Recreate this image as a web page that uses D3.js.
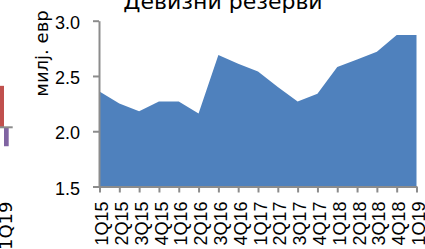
<!DOCTYPE html>
<html>
<head>
<meta charset="utf-8">
<script src="https://cdn.jsdelivr.net/npm/d3@7"></script>
<style>
  body { margin: 0; background: #fff; }
  svg { display: block; font-family: "DejaVu Sans", sans-serif; }
  .axis path, .axis line { stroke: #8c8c8c; stroke-width: 2; }
</style>
</head>
<body>
<div id="container"></div>
<script>
// Девизни резерви (милј. евр), квартали
const quarters = ['1Q15','2Q15','3Q15','4Q15','1Q16','2Q16','3Q16','4Q16',
                  '1Q17','2Q17','3Q17','4Q17','1Q18','2Q18','3Q18','4Q18','1Q19'];
const reserves = [2.36, 2.25, 2.18, 2.27, 2.27, 2.16, 2.69, 2.61,
                  2.54, 2.40, 2.27, 2.34, 2.58, 2.65, 2.72, 2.87, 2.87];
const yTicks = [1.5, 2.0, 2.5, 3.0];

// fragment of the neighbouring chart (only its last category is visible)
const leftCats = ['1Q19'];
const leftSeries = ['s0', 's1', 's2', 's3'];
const leftRed = [0.70];
const leftPurple = [-0.32];

const WIDTH = 425;
const HEIGHT = 249;

const svg = d3.select('#container')
  .append('svg')
    .attr('width', WIDTH)
    .attr('height', HEIGHT);

// ---- main chart
const x = d3.scalePoint().domain(quarters).range([99.5, 416.5]);
const y = d3.scaleLinear().domain([1.5, 3.0]).range([186.5, 20.7]);

const area = d3.area()
  .x((d, i) => x(quarters[i]))
  .y0(y(1.5))
  .y1(d => y(d));

svg.append('path')
  .datum(reserves)
  .attr('d', area)
  .attr('fill', '#4f81bd');

const yAxis = svg.append('g')
  .attr('class', 'axis')
  .attr('transform', `translate(${x.range()[0] - 0.5}, 0)`)
  .call(d3.axisLeft(y).tickValues(yTicks).tickFormat(d3.format('.1f'))
    .tickSize(6).tickSizeOuter(0).tickPadding(13));
yAxis.selectAll('text')
  .attr('fill', '#000').style('font-size', '18px').attr('dy', '0.42em');

const xAxis = svg.append('g')
  .attr('class', 'axis')
  .attr('transform', `translate(0, ${y(1.5)})`)
  .call(d3.axisBottom(x).tickSize(6).tickSizeOuter(0).tickPadding(9));
xAxis.selectAll('text')
  .attr('fill', '#000').style('font-size', '18px')
  .attr('text-anchor', 'end')
  .attr('transform', 'rotate(-90)')
  .attr('x', -15).attr('y', 0).attr('dy', '0.45em');

svg.append('text')
  .attr('x', 223).attr('y', 9)
  .attr('text-anchor', 'middle')
  .style('font-size', '22px')
  .text('Девизни резерви');

svg.append('text')
  .attr('transform', 'translate(48, 53.5) rotate(-90)')
  .attr('text-anchor', 'middle')
  .style('font-size', '18px')
  .text('милј. евр');

// ---- neighbouring chart fragment
const xl = d3.scaleBand().domain(leftCats).range([-5.4, 13.4]);
const xs = d3.scaleBand().domain(leftSeries).range([0, xl.bandwidth()]);
const yl = d3.scaleLinear().domain([-1, 1.8]).range([186.5, 20.7]);

const left = svg.append('g');
left.selectAll('.red').data(leftRed).enter().append('rect')
  .attr('x', (d, i) => xl(leftCats[i]) + xs('s1'))
  .attr('width', xs.bandwidth())
  .attr('y', d => yl(Math.max(0, d)))
  .attr('height', d => Math.abs(yl(d) - yl(0)))
  .attr('fill', '#c0504d');
left.selectAll('.purple').data(leftPurple).enter().append('rect')
  .attr('x', (d, i) => xl(leftCats[i]) + xs('s2'))
  .attr('width', xs.bandwidth())
  .attr('y', d => yl(Math.max(0, d)))
  .attr('height', d => Math.abs(yl(d) - yl(0)))
  .attr('fill', '#8064a2');
left.append('line')
  .attr('x1', 0).attr('x2', xl.range()[1] - 0.7)
  .attr('y1', yl(0)).attr('y2', yl(0))
  .attr('stroke', '#8c8c8c').attr('stroke-width', 2);
left.selectAll('.lbl').data(leftCats).enter().append('text')
  .attr('transform', d => `translate(${xl(d) + xl.bandwidth() / 2}, ${yl(-1) + 15}) rotate(-90)`)
  .attr('text-anchor', 'end')
  .attr('dy', '0.45em')
  .style('font-size', '18px')
  .text(d => d);
</script>
</body>
</html>
